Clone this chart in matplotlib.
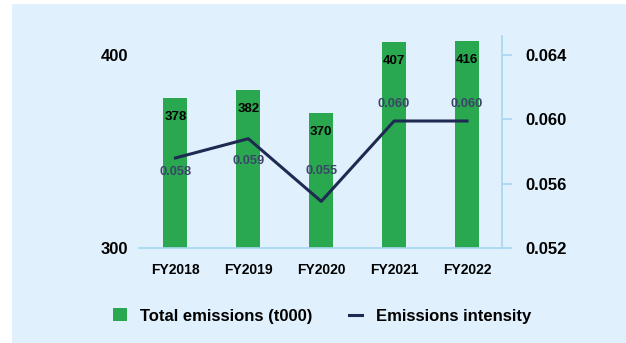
import matplotlib
matplotlib.use("Agg")
import matplotlib.pyplot as plt
from matplotlib.patches import Rectangle

# data
years = ["FY2018", "FY2019", "FY2020", "FY2021", "FY2022"]
total_emissions = [378, 382, 370, 407, 416]
intensity = [0.0576, 0.0588, 0.0549, 0.0599, 0.0599]
left_ticks = [300, 400]
right_ticks = [0.052, 0.056, 0.060, 0.064]

bg = "#e0f1fd"
green = "#2aa84f"
navy = "#1f2a52"
spine_blue = "#a6d6f0"

plt.rcParams["font.family"] = ["Liberation Sans", "DejaVu Sans"]

fig = plt.figure(figsize=(6.26, 3.43), dpi=100)
fig.patch.set_facecolor("white")
# light blue panel behind everything
fig.patches.append(Rectangle((12 / 626, 0), 1, 1 - 4 / 343, transform=fig.transFigure,
                             facecolor=bg, edgecolor="none", zorder=-1))

ax = fig.add_axes([139 / 626, 1 - 248 / 343, (502 - 139) / 626, (248 - 41) / 343])
ax.set_facecolor("none")
x = range(len(years))
bars = ax.bar(x, total_emissions, width=0.33, color=green, zorder=2)
ax.set_xlim(-0.5, 4.48)
ax.set_ylim(300, 407.3)
ax.set_yticks(left_ticks)
ax.set_xticks(list(x))
ax.set_xticklabels(years, fontsize=10, fontweight="bold")
ax.tick_params(axis="x", length=0, pad=11)
ax.tick_params(axis="y", length=0, pad=8, labelsize=12)
for lab in ax.get_yticklabels():
    lab.set_fontweight("bold")
for s in ["top", "left", "right"]:
    ax.spines[s].set_visible(False)
ax.spines["bottom"].set_color(spine_blue)
ax.spines["bottom"].set_linewidth(1.2)

for i, v in enumerate(total_emissions):
    ax.annotate(str(v), (i, min(v, 407.3)), xytext=(0, -14), textcoords="offset points",
                ha="center", va="center", fontsize=9.5, fontweight="bold", color="black", zorder=4)

ax2 = ax.twinx()
ax2.set_ylim(0.052, 0.052 + 107.3 / 100 * 0.0120)
ax2.plot(list(x), intensity, color=navy, linewidth=2.2, zorder=3)
ax2.set_yticks(right_ticks)
ax2.set_yticklabels([f"{t:.3f}" for t in right_ticks], fontsize=12, fontweight="bold")
ax2.tick_params(axis="y", length=7, width=1.2, color=spine_blue, pad=10)
for s in ["top", "left", "bottom"]:
    ax2.spines[s].set_visible(False)
ax2.spines["right"].set_color(spine_blue)
ax2.spines["right"].set_linewidth(1.2)
ax2.spines["right"].set_bounds(0.052, 0.0652)

# value labels for the line, above or below the point
offsets = [-10, -16, 22, 12, 12]
for i, v in enumerate(intensity):
    ax2.annotate(f"{v:.3f}", (i, v), xytext=(0, offsets[i]), textcoords="offset points",
                 ha="center", va="center", fontsize=9.3, fontweight="bold",
                 color="#3a4568", zorder=5)

# legend
handles = [Rectangle((0, 0), 1, 1, facecolor=green),
           plt.Line2D([0], [0], color=navy, linewidth=2.2)]
leg = fig.legend(handles, ["Total emissions (t000)", "Emissions intensity"],
                 loc="center", bbox_to_anchor=(322 / 626, 1 - 316 / 343), ncol=2,
                 frameon=False, prop={"size": 12, "weight": "bold"},
                 handlelength=0.8, handleheight=0.8, handletextpad=0.8, columnspacing=2.2)

fig.savefig("out.png", dpi=100, facecolor=fig.get_facecolor())
